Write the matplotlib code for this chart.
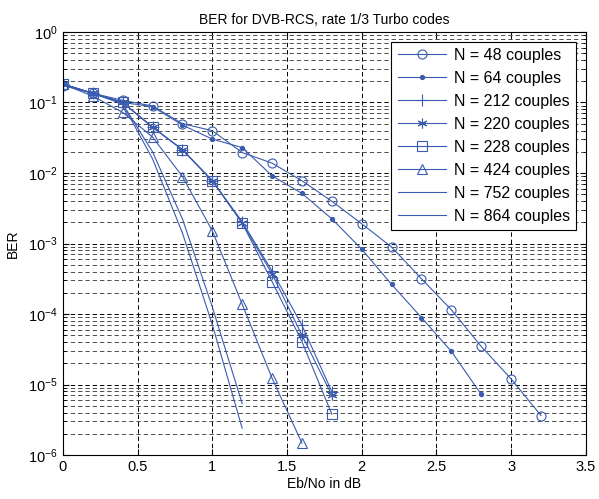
import numpy as np
import matplotlib
matplotlib.use("Agg")
import matplotlib.pyplot as plt
from matplotlib.ticker import LogLocator, FixedLocator

plt.rcParams['font.family'] = ['Liberation Sans', 'DejaVu Sans']
plt.rcParams['mathtext.fontset'] = 'custom'
plt.rcParams['mathtext.rm'] = 'Liberation Sans'
plt.rcParams['mathtext.it'] = 'Liberation Sans'

# Eb/No points (dB) and log10(BER)
ebno_48 = [0, 0.2, 0.4, 0.6, 0.8, 1.0, 1.2, 1.4, 1.6, 1.8, 2.0, 2.2, 2.4, 2.6, 2.8, 3.0, 3.2]
lber_48 = [-0.76, -0.87, -0.97, -1.05, -1.30, -1.40, -1.71, -1.86, -2.11, -2.40, -2.72,
           -3.05, -3.50, -3.94, -4.46, -4.92, -5.44]

ebno_64 = [0, 0.2, 0.4, 0.6, 0.8, 1.0, 1.2, 1.4, 1.6, 1.8, 2.0, 2.2, 2.4, 2.6, 2.8]
lber_64 = [-0.74, -0.87, -1.0, -1.06, -1.32, -1.52, -1.64, -2.04, -2.29, -2.65, -3.08,
           -3.58, -4.05, -4.53, -5.14]

ebno_mid = [0, 0.2, 0.4, 0.6, 0.8, 1.0, 1.2, 1.4, 1.6, 1.8]
lber_212 = [-0.74, -0.87, -1.0, -1.35, -1.67, -2.11, -2.69, -3.39, -4.16, -5.10]
lber_220 = [-0.74, -0.87, -1.0, -1.35, -1.67, -2.11, -2.71, -3.43, -4.30, -5.15]
lber_228 = [-0.74, -0.87, -1.0, -1.35, -1.67, -2.11, -2.71, -3.54, -4.39, -5.42]

ebno_424 = [0, 0.2, 0.4, 0.6, 0.8, 1.0, 1.2, 1.4, 1.6]
lber_424 = [-0.74, -0.91, -1.14, -1.49, -2.05, -2.82, -3.86, -4.91, -5.83]

ebno_long = [0, 0.2, 0.4, 0.6, 0.8, 1.0, 1.2]
lber_752 = [-0.74, -0.87, -1.02, -1.80, -2.85, -4.15, -5.62]
lber_864 = [-0.74, -0.87, -1.02, -1.70, -2.65, -3.90, -5.27]

labels = ["N = 48 couples", "N = 64 couples", "N = 212 couples", "N = 220 couples",
          "N = 228 couples", "N = 424 couples", "N = 752 couples", "N = 864 couples"]

blue = "#3a5bb0"

fig = plt.figure(figsize=(5.99, 4.99), dpi=100)
ax = fig.add_axes([0.105, 0.088, 0.873, 0.848])

series = [
    (ebno_48, lber_48, "o", 6.5, "none"),
    (ebno_64, lber_64, ".", 6, blue),
    (ebno_mid, lber_212, "+", 8, blue),
    (ebno_mid, lber_220, (6, 2, 0), 7, blue),
    (ebno_mid, lber_228, "s", 6.5, "none"),
    (ebno_424, lber_424, "^", 7.5, "none"),
    (ebno_long, lber_752, None, 0, blue),
    (ebno_long, lber_864, None, 0, blue),
]
for (x, ly, mk, ms, mfc), lab in zip(series, labels):
    ax.semilogy(x, 10.0 ** np.array(ly), color=blue, lw=0.8, marker=mk,
                markersize=ms, markerfacecolor=mfc, markeredgecolor=blue,
                markeredgewidth=0.8, label=lab)

ax.set_xlim(0, 3.5)
ax.set_ylim(1e-6, 1)
ax.xaxis.set_major_locator(FixedLocator(np.arange(0, 3.51, 0.5)))
ax.set_xticklabels(["0", "0.5", "1", "1.5", "2", "2.5", "3", "3.5"])
ax.yaxis.set_major_locator(LogLocator(base=10, numticks=10))
ax.yaxis.set_minor_locator(LogLocator(base=10, subs=np.arange(2, 10), numticks=10))

dash = (0, (4.5, 3))
ax.grid(True, which="major", axis="both", color="black", lw=0.7, linestyle=dash)
ax.grid(True, which="minor", axis="y", color="0.3", lw=0.7, linestyle=dash)

ax.tick_params(which="both", direction="in", top=True, right=True, labelsize=10.5)
ax.tick_params(which="major", length=4)
ax.tick_params(which="minor", length=2)
for s in ax.spines.values():
    s.set_linewidth(0.8)

ax.set_title("BER for DVB-RCS, rate 1/3 Turbo codes", fontsize=10)
ax.set_xlabel("Eb/No in dB", fontsize=10, labelpad=2)
ax.set_ylabel("BER", fontsize=10, labelpad=6)

leg = ax.legend(loc="upper right", fontsize=11.5, fancybox=False, framealpha=1,
                edgecolor="black", handlelength=3.0, borderaxespad=0.6,
                labelspacing=0.5, handletextpad=0.5)
leg.get_frame().set_linewidth(0.8)

fig.savefig("out.png", dpi=100)
